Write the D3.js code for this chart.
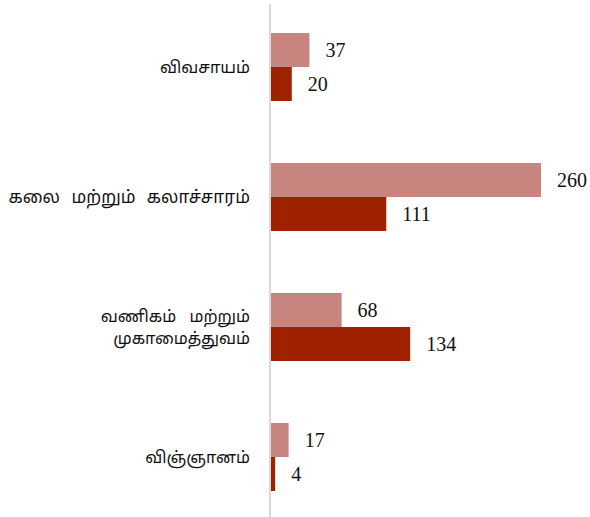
<html>
<head>
<meta charset="UTF-8"/>
<script src="https://d3js.org/d3.v7.min.js"></script>
<style>
body { margin: 0; background: #fff; }
</style>
</head>
<body>
<svg id="chart" width="590" height="517"></svg>
<script>
'use strict';

// categories (each entry = lines of the label)
var categories = [
  ['விவசாயம்'],
  ['கலை மற்றும் கலாச்சாரம்'],
  ['வணிகம் மற்றும்', 'முகாமைத்துவம்'],
  ['விஞ்ஞானம்']
];
var seriesA = [37, 260, 68, 17];
var seriesB = [20, 111, 134, 4];
var colors = ['#c8857f', '#9e2100'];

var svg = d3.select('#chart');

var x = d3.scaleLinear().domain([0, 260]).range([271, 541]);
var y = d3.scaleBand().domain(d3.range(categories.length)).range([2, 522]);
var sub = d3.scaleBand().domain([0, 1]).range([0, 68]);

// axis line
svg.append('line')
  .attr('x1', 270).attr('x2', 270)
  .attr('y1', 4).attr('y2', 517)
  .attr('stroke', '#d9d9d9').attr('stroke-width', 2);

var series = [seriesA, seriesB];

var groups = svg.selectAll('.grp')
  .data(categories)
  .enter().append('g')
  .attr('class', 'grp')
  .attr('transform', function(d, i){
    return 'translate(0,' + (y(i) + y.bandwidth()/2 - 34) + ')';
  });

series.forEach(function(vals, s){
  groups.append('rect')
    .attr('x', x(0))
    .attr('y', sub(s))
    .attr('width', function(d, i){ return x(vals[i]) - x(0); })
    .attr('height', sub.bandwidth())
    .attr('fill', colors[s]);

  groups.append('text')
    .attr('x', function(d, i){ return x(vals[i]) + 16; })
    .attr('y', sub(s) + sub.bandwidth()/2)
    .attr('dy', '0.35em')
    .attr('font-family', '"Liberation Serif", "Times New Roman", serif')
    .attr('font-size', 20)
    .attr('fill', '#111')
    .text(function(d, i){ return vals[i]; });
});

// category labels
groups.each(function(lines, gi){
  var g = d3.select(this);
  var t = g.append('text')
    .attr('text-anchor', 'end')
    .attr('font-family', '"Noto Sans Tamil", "Noto Serif Tamil", "Lohit Tamil", "FreeSerif", "Noto Sans", sans-serif')
    .attr('font-size', gi == 1 ? 17.2 : 16.3)
    .attr('word-spacing', gi == 1 ? 7 : 9)
    .attr('fill', '#111');
  var n = lines.length;
  t.selectAll('tspan')
    .data(lines)
    .enter().append('tspan')
    .attr('x', 250)
    .attr('y', function(d, i){ return 34 + (i - (n - 1)/2) * 22; })
    .attr('dy', '0.35em')
    .text(function(d){ return d; });
});
</script>
</body>
</html>
